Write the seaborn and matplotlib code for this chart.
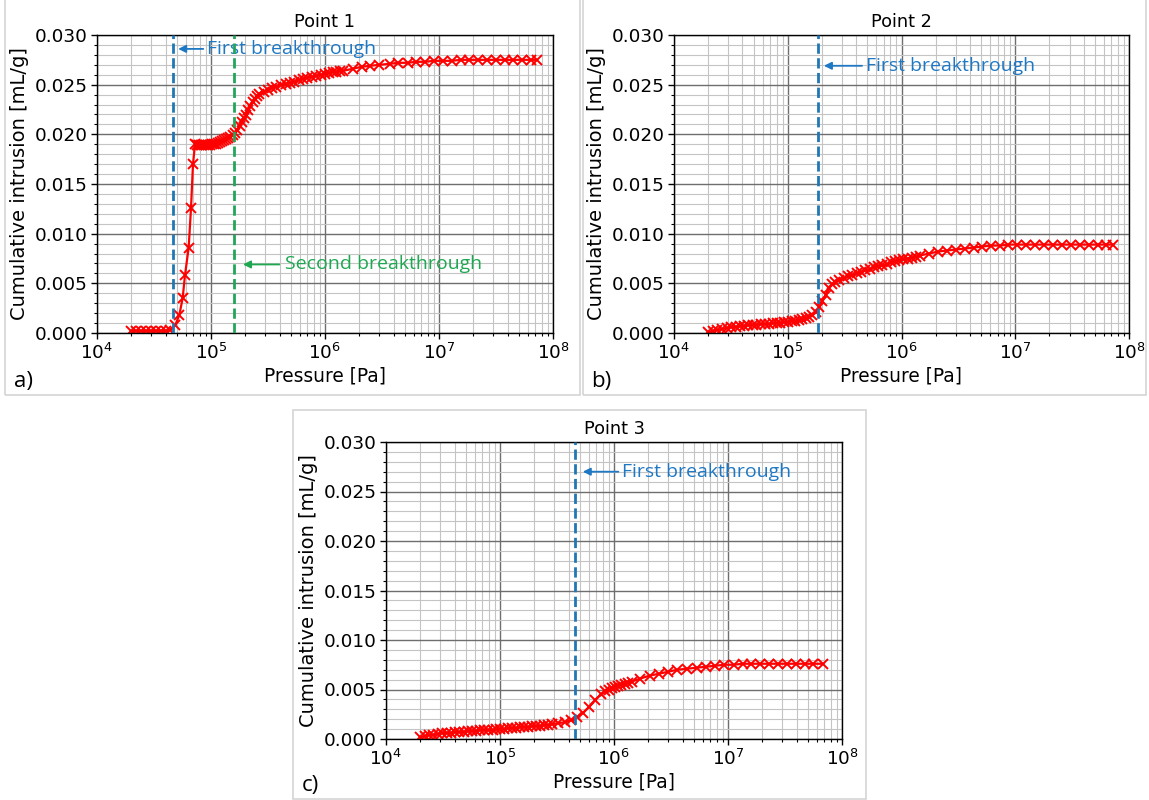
import matplotlib
matplotlib.use("Agg")
import numpy as np
import pandas as pd
import matplotlib.pyplot as plt
import seaborn as sns
from matplotlib.ticker import MultipleLocator, LogLocator, NullFormatter, FormatStrFormatter
from matplotlib.patches import Rectangle

# ---------------- data ----------------
p1 = [2.0e4, 2.2e4, 2.45e4, 2.7e4, 3.0e4, 3.3e4, 3.65e4, 4.0e4, 4.4e4,
      4.86e4, 5.27e4, 5.64e4, 5.91e4, 6.37e4, 6.68e4, 6.95e4, 7.24e4,
      7.5e4, 7.8e4, 8.1e4, 8.4e4, 8.7e4, 9.0e4, 9.4e4, 9.8e4, 1.02e5, 1.06e5,
      1.10e5, 1.15e5, 1.20e5, 1.25e5, 1.30e5, 1.36e5, 1.42e5, 1.48e5, 1.55e5,
      1.62e5, 1.70e5, 1.78e5, 1.86e5, 1.95e5, 2.03e5, 2.12e5, 2.22e5, 2.32e5,
      2.42e5, 2.53e5, 2.65e5, 2.9e5, 3.14e5, 3.45e5, 3.75e5, 4.1e5, 4.55e5,
      4.9e5, 5.4e5, 5.9e5, 6.4e5, 7.0e5, 7.7e5, 8.4e5, 9.2e5, 1.0e6, 1.08e6,
      1.17e6, 1.26e6, 1.35e6, 1.45e6, 1.75e6, 2.1e6, 2.5e6, 3.0e6, 3.7e6,
      4.4e6, 5.3e6, 6.3e6, 7.5e6, 9.0e6, 1.08e7, 1.3e7, 1.55e7, 1.85e7, 2.2e7,
      2.65e7, 3.15e7, 3.8e7, 4.5e7, 5.4e7, 6.4e7, 7.2e7]
v1 = [0.0002, 0.0002, 0.0002, 0.0002, 0.0002, 0.0002, 0.0002, 0.0002, 0.0003,
      0.0008, 0.0018, 0.0035, 0.0058, 0.0086, 0.0126, 0.0170, 0.0190,
      0.0189, 0.0189, 0.0189, 0.0189, 0.0189, 0.0189, 0.0189, 0.0189, 0.0190, 0.0190,
      0.0190, 0.0191, 0.0192, 0.0193, 0.0194, 0.0195, 0.0196, 0.0197, 0.0199,
      0.0201, 0.0204, 0.0208, 0.0212, 0.0216, 0.0219, 0.0224, 0.0229, 0.0233,
      0.0236, 0.0239, 0.0241, 0.0243, 0.0245, 0.0247, 0.0248, 0.0250, 0.0251,
      0.0252, 0.0253, 0.0255, 0.0256, 0.0257, 0.0258, 0.0259, 0.0260, 0.0261, 0.0262,
      0.0263, 0.0263, 0.0264, 0.0264, 0.0266, 0.0268, 0.0269, 0.0270, 0.0271,
      0.0272, 0.0272, 0.0273, 0.0273, 0.0274, 0.0274, 0.0274, 0.0275, 0.0275, 0.0275,
      0.0275, 0.0275, 0.0275, 0.0275, 0.0275, 0.0275, 0.0275]

p2 = [2.0e4, 2.2e4, 2.4e4, 2.65e4, 2.9e4, 3.2e4, 3.5e4, 3.8e4, 4.1e4, 4.5e4,
      4.9e4, 5.3e4, 5.8e4, 6.3e4, 6.8e4, 7.4e4, 8.0e4, 8.6e4, 9.3e4, 1.0e5,
      1.08e5, 1.16e5, 1.25e5, 1.34e5, 1.44e5, 1.54e5, 1.65e5, 1.77e5, 1.9e5,
      2.02e5, 2.15e5, 2.31e5, 2.45e5, 2.6e5, 2.85e5, 3.1e5, 3.4e5, 3.7e5,
      4.05e5, 4.4e5, 4.8e5, 5.25e5, 5.7e5, 6.2e5, 6.8e5, 7.4e5, 8.1e5, 8.8e5,
      9.6e5, 1.04e6, 1.13e6, 1.23e6, 1.34e6, 1.45e6, 1.75e6, 2.1e6, 2.5e6,
      3.0e6, 3.6e6, 4.3e6, 5.1e6, 6.1e6, 7.3e6, 8.7e6, 1.04e7, 1.25e7, 1.5e7,
      1.8e7, 2.15e7, 2.6e7, 3.1e7, 3.7e7, 4.45e7, 5.3e7, 6.3e7, 7.2e7]
v2 = [0.0001, 0.0002, 0.0003, 0.0004, 0.0005, 0.0006, 0.0006, 0.0007, 0.0007, 0.0008,
      0.0008, 0.0008, 0.0009, 0.0009, 0.0009, 0.0010, 0.0010, 0.0010, 0.0011, 0.0011,
      0.0012, 0.0012, 0.0013, 0.0014, 0.0015, 0.0016, 0.0018, 0.0021, 0.0026,
      0.0032, 0.0038, 0.0045, 0.0049, 0.0051, 0.0053, 0.0055, 0.0057, 0.0058,
      0.0060, 0.0061, 0.0063, 0.0064, 0.0066, 0.0067, 0.0068, 0.0069, 0.0071, 0.0072,
      0.0073, 0.0074, 0.0075, 0.0076, 0.0077, 0.0078, 0.0080, 0.0082, 0.0083,
      0.0084, 0.0085, 0.0086, 0.0087, 0.0088, 0.0088, 0.0089, 0.0089, 0.0089, 0.0089,
      0.0089, 0.0089, 0.0089, 0.0089, 0.0089, 0.0089, 0.0089, 0.0089, 0.0089]

p3 = [2.0e4, 2.2e4, 2.4e4, 2.6e4, 2.85e4, 3.1e4, 3.4e4, 3.7e4, 4.0e4, 4.4e4,
      4.8e4, 5.2e4, 5.7e4, 6.2e4, 6.7e4, 7.3e4, 7.9e4, 8.6e4, 9.3e4, 1.0e5,
      1.09e5, 1.18e5, 1.28e5, 1.39e5, 1.5e5, 1.63e5, 1.77e5, 1.92e5, 2.08e5,
      2.25e5, 2.45e5, 2.65e5, 2.87e5, 3.25e5, 3.7e5, 4.2e5, 4.7e5, 5.3e5, 6.0e5,
      6.8e5, 7.7e5, 8.4e5, 9.0e5, 9.6e5, 1.02e6, 1.09e6, 1.16e6, 1.24e6, 1.33e6,
      1.43e6, 1.7e6, 2.05e6, 2.5e6, 3.0e6, 3.6e6, 4.4e6, 5.3e6, 6.4e6, 7.7e6,
      9.3e6, 1.12e7, 1.35e7, 1.6e7, 1.9e7, 2.3e7, 2.75e7, 3.3e7, 3.95e7, 4.7e7,
      5.6e7, 6.8e7]
v3 = [0.0002, 0.0003, 0.0004, 0.0004, 0.0005, 0.0006, 0.0006, 0.0006, 0.0007, 0.0007,
      0.0007, 0.0008, 0.0008, 0.0008, 0.0009, 0.0009, 0.0009, 0.0009, 0.0010, 0.0010,
      0.0010, 0.0011, 0.0011, 0.0011, 0.0012, 0.0012, 0.0012, 0.0013, 0.0013,
      0.0013, 0.0014, 0.0014, 0.0015, 0.0016, 0.0017, 0.0019, 0.0022, 0.0026, 0.0032,
      0.0039, 0.0045, 0.0048, 0.0050, 0.0052, 0.0053, 0.0054, 0.0055, 0.0056, 0.0057,
      0.0058, 0.0061, 0.0064, 0.0066, 0.0068, 0.0070, 0.0071, 0.0072, 0.0073, 0.0074,
      0.0075, 0.0075, 0.0076, 0.0076, 0.0076, 0.0076, 0.0076, 0.0076, 0.0076, 0.0076,
      0.0076, 0.0076]

titles = ["Point 1", "Point 2", "Point 3"]
panel_labels = ["a)", "b)", "c)"]
first_bt = [4.6e4, 1.84e5, 4.55e5]
second_bt = 1.59e5
xlabel = "Pressure [Pa]"
ylabel = "Cumulative intrusion [mL/g]"

# ---------------- style ----------------
sns.set_theme(style="ticks")
plt.rcParams["font.family"] = ["DejaVu Sans"]
plt.rcParams["font.size"] = 13
for k in ["text.color", "axes.labelcolor", "xtick.color", "ytick.color"]:
    plt.rcParams[k] = "black"

W, H = 1149, 800
fig = plt.figure(figsize=(W / 100, H / 100), dpi=100)
fig.patch.set_facecolor("white")


def fx(px):
    return px / W


def fy(py):
    return 1 - py / H


# panel frames (figure pixel coords: left, top, right, bottom)
frames = [(5, -5, 580, 395), (583, -5, 1146, 395), (293, 410, 866, 799)]
for (l, t, r, b) in frames:
    fig.add_artist(Rectangle((fx(l), fy(b)), fx(r) - fx(l), fy(t) - fy(b),
                             transform=fig.transFigure, fill=False,
                             ec="#d4d4d4", lw=1.2))

# axes boxes (left, top, right, bottom in pixels)
boxes = [(97, 35, 553, 333), (674, 35, 1129, 333), (386, 442, 842, 739)]
label_pos = [(14, 381), (591, 381), (302, 786)]

blue_line = "#1f77b4"
blue_txt = "#1f78c4"
green_line = "#22a559"
green_txt = "#1ea852"

series = [(p1, v1), (p2, v2), (p3, v3)]
ann = [
    dict(head=1.12, text=2.0, y=0.0286),
    dict(head=1.13, text=2.63, y=0.0269),
    dict(head=1.17, text=2.58, y=0.0270),
]
ann_font = ["Open Sans", "DejaVu Sans"]

for i, (l, t, r, b) in enumerate(boxes):
    ax = fig.add_axes([fx(l), fy(b), fx(r) - fx(l), fy(t) - fy(b)])
    ax.set_facecolor("white")
    ax.set_xscale("log")
    p, v = series[i]
    df = pd.DataFrame({"Pressure": p, "Intrusion": v})
    sns.lineplot(data=df, x="Pressure", y="Intrusion", ax=ax, color="red",
                 marker="x", markersize=7.5, markeredgewidth=1.4,
                 markeredgecolor="red", linewidth=1.6, estimator=None,
                 sort=False, zorder=2)
    ax.set_xlim(1e4, 1e8)
    ax.set_ylim(0, 0.030)
    ax.yaxis.set_major_locator(MultipleLocator(0.005))
    ax.yaxis.set_minor_locator(MultipleLocator(0.001))
    ax.yaxis.set_major_formatter(FormatStrFormatter("%.3f"))
    ax.xaxis.set_major_locator(LogLocator(base=10, numticks=10))
    ax.xaxis.set_minor_locator(LogLocator(base=10, subs=np.arange(2, 10), numticks=20))
    ax.xaxis.set_minor_formatter(NullFormatter())
    ax.grid(which="major", color="#6e6e6e", lw=1.0, zorder=0)
    ax.grid(which="minor", color="#c4c4c4", lw=0.8, zorder=0)
    ax.set_axisbelow(True)
    ax.tick_params(which="major", direction="out", length=4, width=1,
                   labelsize=13.3, color="black", labelcolor="black", pad=3)
    ax.tick_params(which="minor", direction="out", length=2.5, width=0.8, color="black")
    for s in ax.spines.values():
        s.set_color("black")
        s.set_linewidth(1.0)
    ax.set_xlabel(xlabel, fontsize=13.4, labelpad=3)
    ax.set_ylabel(ylabel, fontsize=14, labelpad=4)
    ax.set_title(titles[i], fontsize=12.8, pad=6)

    bt = first_bt[i]
    ax.axvline(bt, color=blue_line, ls="--", lw=2, zorder=3)
    a = ann[i]
    ax.annotate("", xy=(bt * a["head"], a["y"]), xytext=(bt * (a["text"] * 0.93), a["y"]),
                arrowprops=dict(arrowstyle="-|>", color=blue_txt, lw=1.3,
                                mutation_scale=11, shrinkA=0, shrinkB=0))
    ax.text(bt * a["text"], a["y"], "First breakthrough", color=blue_txt,
            fontsize=14, family=ann_font, va="center", ha="left")

    if i == 0:
        ax.axvline(second_bt, color=green_line, ls="--", lw=2, zorder=3)
        ys = 0.0069
        ax.annotate("", xy=(second_bt * 1.2, ys), xytext=(second_bt * 2.5, ys),
                    arrowprops=dict(arrowstyle="-|>", color=green_txt, lw=1.3,
                                    mutation_scale=11, shrinkA=0, shrinkB=0))
        ax.text(second_bt * 2.8, ys, "Second breakthrough", color=green_txt,
                fontsize=14, family=ann_font, va="center", ha="left")

    lx, ly = label_pos[i]
    fig.text(fx(lx), fy(ly), panel_labels[i], fontsize=16,
             family=ann_font, va="center", ha="left")

fig.savefig("out.png", dpi=100, facecolor="white")
